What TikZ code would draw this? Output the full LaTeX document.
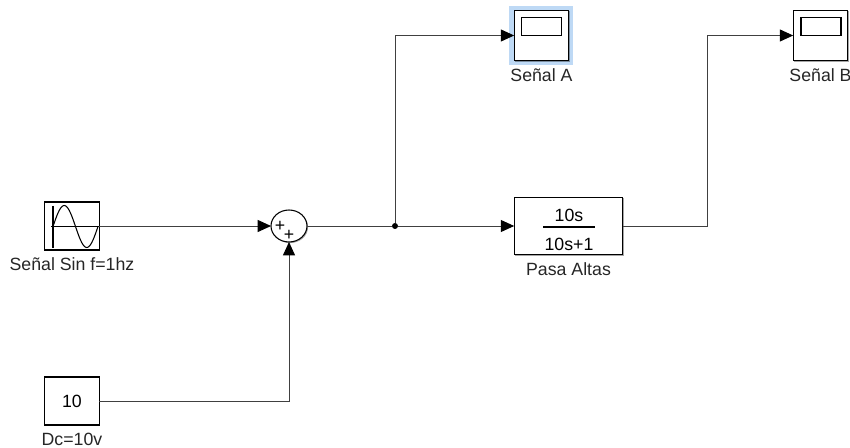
\documentclass[tikz,border=0pt]{standalone}
\usepackage{fontspec}
\setmainfont{Liberation Sans}
\usetikzlibrary{arrows.meta,shadows,shapes.geometric}
\definecolor{glowblue}{RGB}{190,217,245}
\tikzset{
  blockfont/.style={font=\fontsize{13.3pt}{15pt}\selectfont},
  block/.style={draw,line width=0.8pt,fill=white,inner sep=0pt,outer sep=0pt,blockfont,
    drop shadow={shadow xshift=0.8pt,shadow yshift=-0.8pt,opacity=0.35,fill=black}},
  sink/.style={block,minimum width=41pt,minimum height=38pt},
  source/.style={block,minimum width=41pt,minimum height=36pt},
  screen/.style={draw,line width=0.8pt,minimum width=30pt,minimum height=14pt,inner sep=0pt},
  wire/.style={line width=0.7pt,draw=black!75},
  feed/.style={wire,-{Triangle[length=10pt,width=9pt,color=black,fill=black]}},
  every label/.style={inner sep=0pt,outer sep=0pt,text=black!85,blockfont},
  label distance=6pt
}
\begin{document}
\begin{tikzpicture}[x=0.75pt,y=-0.75pt]
      \useasboundingbox (0,0) rectangle (850,448);
      \node[minimum width=47.5pt,minimum height=44.5pt,fill=glowblue] (glow) at (541,35.5) {};
      \node[source,label=below:{Señal Sin f=1hz}] (sine) at (72,226) {};
      \node[source,label=below:{Dc=10v}] (dc) at (72,401) {10};
      \node[block,ellipse,minimum width=27pt,minimum height=24pt] (sum) at (289,226) {};
      \node[block,minimum width=81.5pt,minimum height=43pt,label=below:{Pasa Altas}] (hp) at (568.5,226) {};
      \node[sink,label=below:{Señal A}] (sa) at (541.5,35.5) {};
      \node[sink,label=below:{Señal B}] (sb) at (820.5,35.5) {};
      \node[screen] (sai) at (541.5,26.5) {};
      \node[screen] (sbi) at (821,26.5) {};
      \draw[line width=0.8pt] (53,206) -- (53,248);
      \draw[line width=0.8pt] (51,226.5) -- (99,226.5);
      \draw[line width=0.8pt,smooth] plot[domain=0:360,samples=37] ({53+45*\x/360},{226.5-21*sin(\x)});
      \node[blockfont,inner sep=0pt] (p1) at (280,226.5) {+};
      \node[blockfont,inner sep=0pt] (p2) at (289,235.5) {+};
      \node[blockfont,inner sep=0pt] (num) at (569,215) {10s};
      \node[blockfont,inner sep=0pt] (den) at (569,244) {10s+1};
      \coordinate (barl) at (543,227);
      \coordinate (barr) at (595,227);
      \draw[line width=0.8pt] (barl) -- (barr);
      \node[circle,fill=black,inner sep=0pt,minimum size=4.5pt] (j) at (395,226) {};
      \coordinate (ka) at (707,35.5);
      \draw[feed] (sine.east) -- (sum.west);
      \draw[feed] (dc.east) -| (sum.south);
      \draw[wire] (sum.east) -- (j);
      \draw[feed] (j) -- (hp.west);
      \draw[feed] (j) |- (sa.west);
      \draw[feed] (hp.east) -| (ka) -- (sb.west);
    \end{tikzpicture}
\end{document}
